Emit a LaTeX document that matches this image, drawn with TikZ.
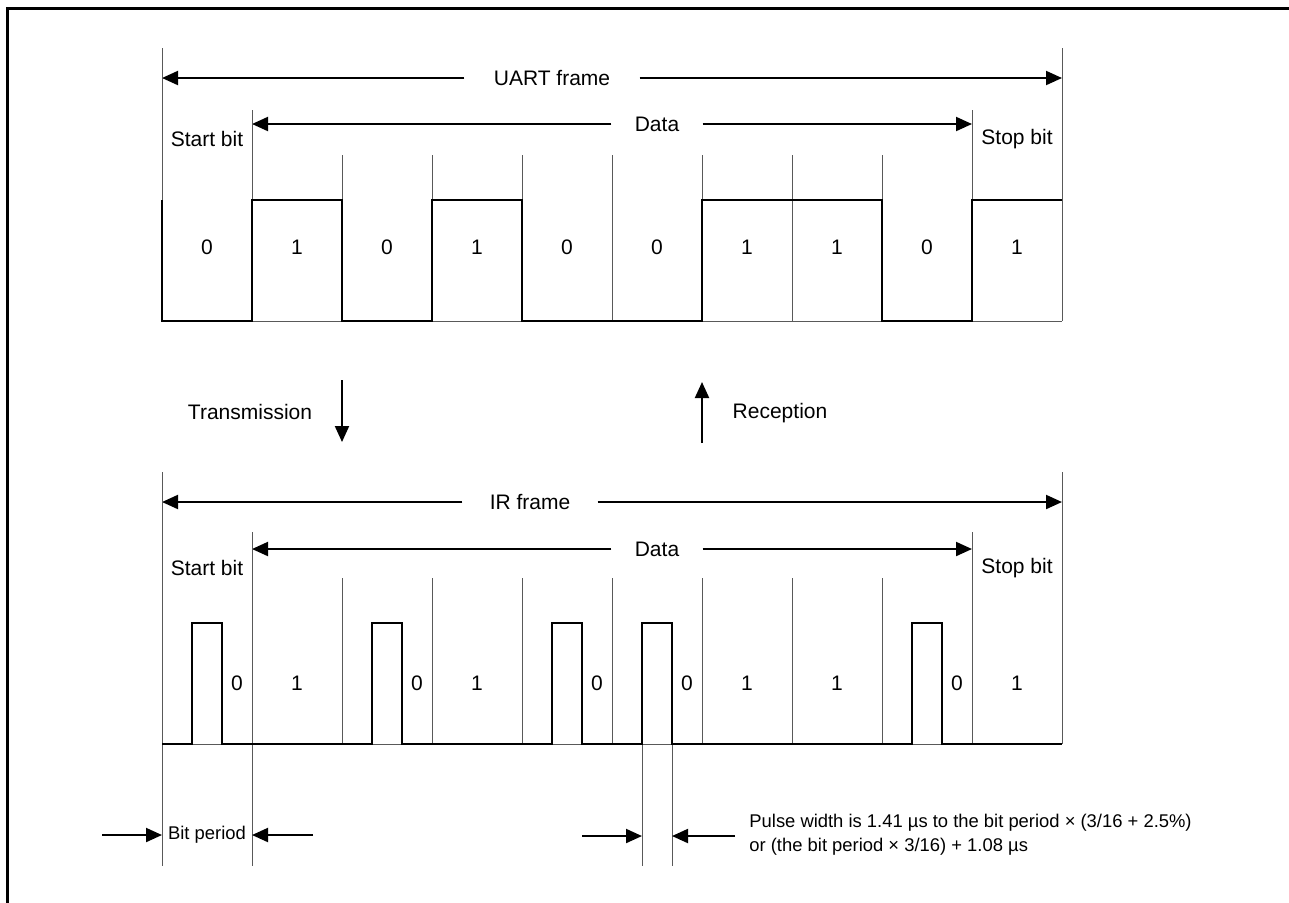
\documentclass[tikz,border=0pt]{standalone}
\usepackage{fontspec}
\setmainfont{Liberation Sans}
\usetikzlibrary{arrows.meta}

\begin{document}
\begin{tikzpicture}[x=0.5pt, y=-0.5pt, >={Triangle[length=8pt,width=7pt]}, font=\fontsize{10.5}{12.6}\selectfont]
  \tikzstyle{wave}=[line width=1pt, line join=miter]
  \tikzstyle{tick}=[line width=0.5pt, draw=black!65]
  \tikzstyle{dim}=[->, line width=1pt]
  \tikzstyle{span}=[inner ysep=0pt, inner xsep=14.5pt]
  \tikzstyle{lbl}=[inner sep=0pt]
  \tikzstyle{note}=[inner sep=0pt, font=\fontsize{9.2}{12}\selectfont]
  \useasboundingbox (0,0) rectangle (1289,902);
  \draw[line width=1.5pt] (7,910) -- (7,8) -- (1300,8);

  % UART frame
  \coordinate (uL) at (162,78);  \coordinate (uR) at (1062,78);
  \coordinate (udL) at (252,124); \coordinate (udR) at (972,124);
  \node[span] (uart) at (552,78) {UART frame};
  \node[span, inner xsep=11.5pt] (udata) at (657,124) {Data};
  \draw[dim] (uart) -- (uL);
  \draw[dim] (uart) -- (uR);
  \draw[dim] (udata) -- (udL);
  \draw[dim] (udata) -- (udR);
  \node[lbl] (ustart) at (207,139) {Start bit};
  \node[lbl] (ustop) at (1017,139) {Stop bit};

  \draw[tick] (162,48) -- (162,321);
  \draw[tick] (252,110) -- (252,321);
  \foreach \x in {342,432,...,882} \draw[tick] (\x,155) -- (\x,321);
  \draw[tick] (972,110) -- (972,321);
  \draw[tick] (1062,48) -- (1062,321);
  \draw[tick] (162,321) -- (1062,321);

  \draw[wave] (162,200) -- (162,321) -- (252,321) -- (252,200) -- (342,200) -- (342,321)
    -- (432,321) -- (432,200) -- (522,200) -- (522,321) -- (702,321) -- (702,200)
    -- (882,200) -- (882,321) -- (972,321) -- (972,200) -- (1062,200);
  \foreach \b [count=\i from 0] in {0,1,0,1,0,0,1,1,0,1}
    \node[lbl] (ub\i) at (207+90*\i,247) {\b};

  % direction
  \node[lbl] (tx) at (250,412) {Transmission};
  \coordinate (txa) at (342,380); \coordinate (txb) at (342,442);
  \draw[dim] (txa) -- (txb);
  \node[lbl] (rx) at (780,413) {Reception};
  \coordinate (rxa) at (702,443); \coordinate (rxb) at (702,382);
  \draw[dim] (rxa) -- (rxb);

  % IR frame
  \coordinate (iL) at (162,502);  \coordinate (iR) at (1062,502);
  \coordinate (idL) at (252,549); \coordinate (idR) at (972,549);
  \node[span, inner xsep=13.5pt] (ir) at (530,502) {IR frame};
  \node[span, inner xsep=11.5pt] (idata) at (657,549) {Data};
  \draw[dim] (ir) -- (iL);
  \draw[dim] (ir) -- (iR);
  \draw[dim] (idata) -- (idL);
  \draw[dim] (idata) -- (idR);
  \node[lbl] (istart) at (207,568) {Start bit};
  \node[lbl] (istop) at (1017,568) {Stop bit};

  \draw[tick] (162,472) -- (162,866);
  \draw[tick] (252,532) -- (252,866);
  \foreach \x in {342,432,...,882} \draw[tick] (\x,578) -- (\x,744);
  \draw[tick] (972,532) -- (972,744);
  \draw[tick] (1062,472) -- (1062,744);
  \draw[tick] (162,744) -- (1062,744);
  \draw[tick] (642,744) -- (642,866);
  \draw[tick] (672,744) -- (672,866);

  \draw[wave] (162,744) -- (192,744) -- (192,623) -- (222,623) -- (222,744)
    -- (372,744) -- (372,623) -- (402,623) -- (402,744)
    -- (552,744) -- (552,623) -- (582,623) -- (582,744)
    -- (642,744) -- (642,623) -- (672,623) -- (672,744)
    -- (912,744) -- (912,623) -- (942,623) -- (942,744) -- (1062,744);
  \foreach \b/\x in {0/237,1/297,0/417,1/477,0/597,0/687,1/747,1/837,0/957,1/1017}
    \node[lbl] (ib\x) at (\x,683) {\b};

  % widths
  \node[note] (bitp) at (207,835) {Bit period};
  \coordinate (bpa) at (102,835); \coordinate (bpb) at (162,835);
  \coordinate (bpc) at (313,835); \coordinate (bpd) at (252,835);
  \draw[dim] (bpa) -- (bpb);
  \draw[dim] (bpc) -- (bpd);
  \coordinate (pwa) at (582,836); \coordinate (pwb) at (642,836);
  \coordinate (pwc) at (735,836); \coordinate (pwd) at (672,836);
  \draw[dim] (pwa) -- (pwb);
  \draw[dim] (pwc) -- (pwd);
  \node[note, anchor=west, align=left] (pulsew) at (749,835)
    {Pulse width is 1.41 µs to the bit period × (3/16 + 2.5\%)\\or (the bit period × 3/16) + 1.08 µs};
\end{tikzpicture}
\end{document}
